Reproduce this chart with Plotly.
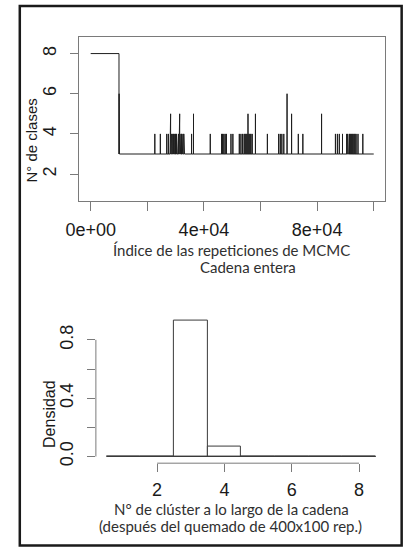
import plotly.graph_objects as go

# ---- MCMC trace: number of classes per iteration ----
n_iter = 100000
burnin_value = 8          # the chain sits at 8 classes at the start
burnin_end = 10000        # iteration where it leaves the initial state
base_value = 3            # most visited state afterwards

# single-iteration excursions away from the base state: (iteration, value)
excursions = [
    (10050, 6), (10150, 4),
    (22660, 4), (24610, 4),
    (26870, 4), (27450, 4), (28030, 4), (28240, 5),
    (28600, 4), (28800, 4), (29000, 4), (29150, 4), (29300, 4), (29500, 4),
    (29700, 4), (29850, 4), (30000, 4), (30300, 4), (30500, 4), (30800, 4),
    (31000, 4), (31200, 4), (31440, 5), (31700, 4), (31900, 4), (32100, 4),
    (32400, 4), (32600, 4), (32900, 4), (33150, 4),
    (35650, 4), (36330, 5),
    (42250, 4),
    (46250, 4), (46590, 4), (47040, 4), (47510, 4), (47950, 4),
    (49560, 4), (50240, 4),
    (52510, 4), (53080, 4), (53650, 4), (54220, 4), (54560, 4), (54900, 4),
    (55240, 4), (55580, 5), (55920, 4), (56260, 4), (56600, 4), (57070, 4),
    (58210, 5),
    (62430, 4),
    (66410, 4), (66990, 4), (67540, 4), (68230, 4),
    (69380, 6), (70980, 5),
    (73360, 4), (74960, 4),
    (81570, 5),
    (86470, 4), (87160, 4), (87840, 4), (88970, 4), (90440, 4), (90800, 4),
    (91020, 4), (91400, 4), (91710, 4), (92050, 4), (92390, 4), (92700, 4),
    (93070, 4), (93400, 4), (93760, 4), (94440, 4), (96150, 4),
]

# ---- histogram of the chain after burn-in ----
hist_breaks = [0.5, 1.5, 2.5, 3.5, 4.5, 5.5, 6.5, 7.5, 8.5]
hist_density = [0.0, 0.0, 0.930, 0.068, 0.002, 0.0, 0.0, 0.0]

trace_xticks = [0, 20000, 40000, 60000, 80000, 100000]
trace_xlabels = ["0e+00", "", "4e+04", "", "8e+04", ""]
trace_yticks = [2, 4, 6, 8]
hist_xticks = [2, 4, 6, 8]
hist_yticks = [0.0, 0.2, 0.4, 0.6, 0.8]
hist_ylabels = ["0.0", "", "0.4", "", "0.8"]

# expand the run-length description into the plotted path
tx = [1, burnin_end]
ty = [burnin_value, burnin_value]
tx.append(burnin_end + 1)
ty.append(base_value)
for it, val in sorted(excursions):
    tx += [it - 1, it, it + 1]
    ty += [base_value, val, base_value]
tx.append(n_iter)
ty.append(base_value)

W, H = 406, 554


def px(x):
    return x / W


def py(y):
    return 1 - y / H


AX = "#7a7a7a"
TICK_FONT = dict(family="Liberation Sans, Arial, sans-serif", size=18, color="#1a1a1a")
TITLE_FONT = dict(family="Lato, Open Sans, sans-serif", size=15, color="#303030")
YLAB_FONT = dict(family="Liberation Sans, Arial, sans-serif", size=15, color="#1a1a1a")

fig = go.Figure()

fig.add_trace(go.Scatter(
    x=tx, y=ty, mode="lines", xaxis="x", yaxis="y",
    line=dict(color="#1e1e1e", width=1), hoverinfo="skip", showlegend=False,
))

centers = [(a + b) / 2 for a, b in zip(hist_breaks[:-1], hist_breaks[1:])]
widths = [b - a for a, b in zip(hist_breaks[:-1], hist_breaks[1:])]
fig.add_trace(go.Bar(
    x=centers, y=hist_density, width=widths, xaxis="x2", yaxis="y2",
    marker=dict(color="white", line=dict(color="#3a3a3a", width=1)),
    hoverinfo="skip", showlegend=False,
))
# zero-height bins are drawn as a flat line along the baseline
fig.add_trace(go.Scatter(
    x=[hist_breaks[0], hist_breaks[-1]], y=[0, 0], mode="lines",
    xaxis="x2", yaxis="y2", line=dict(color="#3a3a3a", width=1),
    hoverinfo="skip", showlegend=False,
))

fig.update_layout(
    width=W, height=H,
    margin=dict(l=0, r=0, t=0, b=0),
    paper_bgcolor="white", plot_bgcolor="white",
    bargap=0,
    xaxis=dict(
        domain=[px(67.7), px(384.3)], range=[-4000, 104000], anchor="y",
        tickvals=trace_xticks, ticktext=trace_xlabels,
        ticks="outside", ticklen=9, tickcolor=AX, tickwidth=1,
        showline=True, linecolor=AX, linewidth=1, mirror=True,
        showgrid=False, zeroline=False, tickfont=TICK_FONT, ticklabelstandoff=4,
    ),
    yaxis=dict(
        domain=[py(201.7), py(37.3)], range=[0.68, 8.82], anchor="x",
        tickvals=trace_yticks, tickangle=-90,
        ticks="outside", ticklen=8, tickcolor=AX, tickwidth=1,
        showline=True, linecolor=AX, linewidth=1, mirror=True,
        showgrid=False, zeroline=False, tickfont=TICK_FONT, ticklabelstandoff=7,
    ),
    xaxis2=dict(
        domain=[px(84.8), px(385.9)], range=[0.18, 8.82], anchor="y2",
        tickvals=hist_xticks,
        ticks="outside", ticklen=8, tickcolor=AX, tickwidth=1,
        showline=False, showgrid=False, zeroline=False,
        tickfont=TICK_FONT, ticklabelstandoff=2,
    ),
    yaxis2=dict(
        domain=[py(465.7), py(315.3)], range=[-0.0457, 0.98], anchor="x2",
        tickvals=hist_yticks, ticktext=hist_ylabels, tickangle=-90,
        ticks="outside", ticklen=8, tickcolor=AX, tickwidth=1,
        showline=False, showgrid=False, zeroline=False,
        tickfont=TICK_FONT, ticklabelstandoff=7,
    ),
    shapes=[
        # histogram axis lines span only the first to last tick
        dict(type="line", xref="x2", yref="y2 domain",
             x0=hist_xticks[0], x1=hist_xticks[-1], y0=0, y1=0,
             line=dict(color=AX, width=1)),
        dict(type="line", xref="x2 domain", yref="y2",
             x0=0, x1=0, y0=hist_yticks[0], y1=hist_yticks[-1],
             line=dict(color=AX, width=1)),
        # outer frame
        dict(type="rect", xref="paper", yref="paper",
             x0=px(6), x1=px(401.5), y0=py(548.5), y1=py(6),
             line=dict(color="#1a1a1a", width=2.5)),
    ],
    annotations=[
        dict(text="N° de clases", x=px(18), y=py(141), xref="paper", yref="paper",
             textangle=-90, showarrow=False, xanchor="center", yanchor="middle",
             font=YLAB_FONT),
        dict(text="Índice de las repeticiones de MCMC", x=px(225), y=py(251),
             xref="paper", yref="paper", showarrow=False,
             xanchor="center", yanchor="middle", font=TITLE_FONT),
        dict(text="Cadena entera", x=px(242), y=py(268),
             xref="paper", yref="paper", showarrow=False,
             xanchor="center", yanchor="middle", font=TITLE_FONT),
        dict(text="Densidad", x=px(37), y=py(416.5), xref="paper", yref="paper",
             textangle=-90, showarrow=False, xanchor="center", yanchor="middle",
             font=dict(family="Liberation Sans, Arial, sans-serif", size=16, color="#1a1a1a")),
        dict(text="N° de clúster a lo largo de la cadena", x=px(225), y=py(511.5),
             xref="paper", yref="paper", showarrow=False,
             xanchor="center", yanchor="middle", font=TITLE_FONT),
        dict(text="(después del quemado de 400x100 rep.)", x=px(224), y=py(529),
             xref="paper", yref="paper", showarrow=False,
             xanchor="center", yanchor="middle", font=TITLE_FONT),
    ],
)

fig.write_html("out.html")
